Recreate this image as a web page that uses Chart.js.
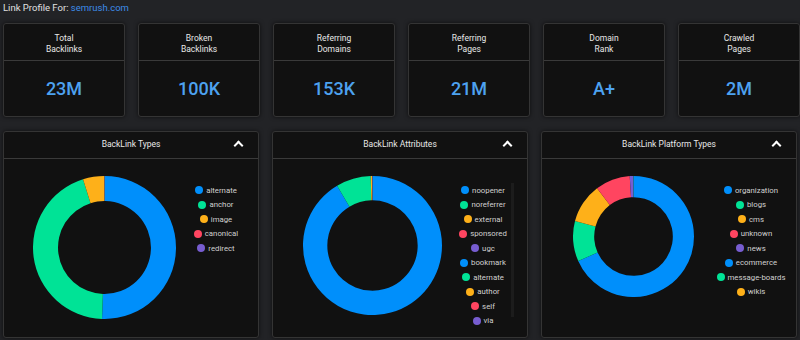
<!DOCTYPE html>
<html>
<head>
<meta charset="utf-8">
<script src="https://cdn.jsdelivr.net/npm/chart.js@4.4.1/dist/chart.umd.min.js"></script>
<style>
  html, body { margin: 0; padding: 0; }
  body {
    width: 800px; height: 340px; overflow: hidden;
    background: #222326; font-family: Roboto, "Noto Sans", sans-serif; color: #e6e6e6;
    position: relative;
  }
  .title { position: absolute; left: 3px; top: 2px; font-size: 9.5px; color: #e0e0e0; }
  .title a { color: #3d8ce8; text-decoration: none; }
  .stats { position: absolute; top: 23px; left: 3px; display: flex; gap: 13px; }
  .stat {
    width: 120px; height: 92px; background: #111111; border: 1px solid #343434;
    border-radius: 3px; box-shadow: 0 0 4px rgba(0,0,0,0.6);
  }
  .stat .head {
    height: 37px; border-bottom: 1px solid #3a3a3a; text-align: center;
    font-size: 8.5px; line-height: 11px; padding-top: 3px; box-sizing: border-box;
    display: flex; align-items: center; justify-content: center; color: #e8e8e8;
  }
  .stat .val {
    height: 54px; display: flex; align-items: center; justify-content: center;
    font-size: 18px; color: #4da2f0; font-weight: 500;
  }
  .charts { position: absolute; top: 131px; left: 3px; display: flex; gap: 13px; }
  .card {
    width: 254px; height: 205px; background: #111111; border: 1px solid #343434;
    border-radius: 3px; position: relative; box-shadow: 0 0 4px rgba(0,0,0,0.6);
  }
  .card .head {
    height: 26px; border-bottom: 1px solid #3a3a3a; text-align: center;
    font-size: 8.5px; line-height: 24px; color: #e8e8e8;
  }
  .chev {
    position: absolute; right: 16px; top: 10px; width: 5px; height: 5px;
    border-top: 2px solid #fff; border-left: 2px solid #fff; transform: rotate(45deg);
  }
  .pie { position: absolute; top: 44px; }
  .legend { position: absolute; top: 51px; font-size: 7.8px; color: #d0d0d0; }
  .legend div { display: flex; align-items: center; justify-content: center; height: 14.5px; }
  .legend span.dot { width: 8px; height: 8px; border-radius: 50%; margin-right: 3px; display: inline-block; }
  .scroll { position: absolute; left: 238px; top: 51px; width: 3px; height: 134px; background: #1c1c1c; }
</style>
</head>
<body>
<div class="title">Link Profile For: <a>semrush.com</a></div>
<div class="stats" id="stats"></div>
<div class="charts">
  <div class="card"><div class="head">BackLink Types</div><div class="chev"></div>
    <div class="pie" style="left:29px;width:143px;height:143px"><canvas id="c1"></canvas></div>
    <div class="legend" id="l1" style="left:172px;width:80px"></div>
  </div>
  <div class="card"><div class="head">BackLink Attributes</div><div class="chev"></div>
    <div class="pie" style="left:30px;width:139px;height:139px"><canvas id="c2"></canvas></div>
    <div class="scroll"></div>
    <div class="legend" id="l2" style="left:170px;width:80px"></div>
  </div>
  <div class="card"><div class="head">BackLink Platform Types</div><div class="chev"></div>
    <div class="pie" style="left:31px;width:121px;height:121px"><canvas id="c3"></canvas></div>
    <div class="legend" id="l3" style="left:164px;width:90px"></div>
  </div>
</div>
<script>
const statLabels = [["Total", "Backlinks"], ["Broken", "Backlinks"], ["Referring", "Domains"], ["Referring", "Pages"], ["Domain", "Rank"], ["Crawled", "Pages"]];
const statValues = ["23M", "100K", "153K", "21M", "A+", "2M"];

const palette = ["#008FFB", "#00E396", "#FEB019", "#FF4560", "#775DD0"];

const typeLabels = ["alternate", "anchor", "image", "canonical", "redirect"];
const typeValues = [11900000, 10500000, 1130000, 9000, 3000];

const attrLabels = ["noopener", "noreferrer", "external", "sponsored", "ugc", "bookmark", "alternate", "author", "self", "via"];
const attrValues = [915000, 81000, 3000, 500, 200, 100, 100, 100, 50, 50];

const platformLabels = ["organization", "blogs", "cms", "unknown", "news", "ecommerce", "message-boards", "wikis"];
const platformValues = [684000, 108000, 106000, 93000, 9000, 500, 300, 200];

const stats = document.getElementById("stats");
statLabels.forEach((l, i) => {
    const d = document.createElement("div");
    d.className = "stat";
    d.innerHTML = '<div class="head"><div>' + l[0] + '<br>' + l[1] + '</div></div><div class="val">' + statValues[i] + '</div>';
    stats.appendChild(d);
});

function makeDonut(id, legendId, labels, values) {
    const colors = labels.map((_, i) => palette[i % palette.length]);
    new Chart(document.getElementById(id), {
        type: "doughnut",
        data: {
            labels: labels,
            datasets: [{ data: values, backgroundColor: colors, borderWidth: 0 }]
        },
        options: {
            responsive: true,
            maintainAspectRatio: false,
            animation: false,
            cutout: "65%",
            plugins: { legend: { display: false }, tooltip: { enabled: false } }
        }
    });
    // legend as html, centred rows like the original
    const lg = document.getElementById(legendId);
    labels.forEach((l, i) => {
        const row = document.createElement("div");
        row.innerHTML = '<span class="dot" style="background:' + colors[i] + '"></span>' + l;
        lg.appendChild(row);
    });
}

makeDonut("c1", "l1", typeLabels, typeValues);
makeDonut("c2", "l2", attrLabels, attrValues);
makeDonut("c3", "l3", platformLabels, platformValues);
</script>
</body>
</html>
